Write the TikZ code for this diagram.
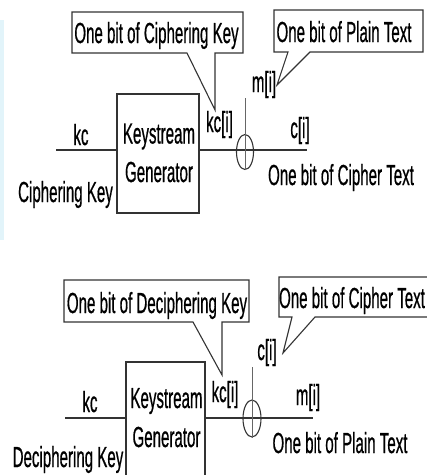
\documentclass[tikz,border=0pt]{standalone}
\usepackage{fontspec}
\usepackage{graphicx}
\setmainfont{Liberation Sans}[FakeBold=0.9]
\usetikzlibrary{shapes.geometric}
\newcommand\narrowtxt[1]{\scalebox{0.52}[1]{#1}}
\definecolor{edgeblue}{HTML}{E2F4FA}
\definecolor{wire}{HTML}{333333}
\begin{document}
\begin{tikzpicture}[x=1pt,y=-1pt,
  lbl/.style={font=\fontsize{29}{30}\selectfont, inner sep=0pt, anchor=base},
  genbox/.style={draw=wire, line width=1.1pt, fill=white, inner sep=0pt},
  xorcirc/.style={ellipse, draw=wire, line width=1.1pt, inner sep=0pt},
  wireline/.style={draw=wire, line width=1.2pt},
  tapline/.style={draw=gray!80!black, line width=0.8pt},
  callout/.style={draw=wire, line width=1.1pt, fill=white, line join=miter}]
\clip (0,0) rectangle (427,475);
\fill[white] (0,0) rectangle (427,475);
\fill[edgeblue] (0,20) rectangle (4,240);

% ---------------- encryption ----------------
\node[genbox, minimum width=82pt, minimum height=119pt] (gen1) at (158,153.5) {};
\node[lbl] (ks1) at (159,143.5) {\narrowtxt{Keystream}};
\node[lbl] (gn1) at (159,182) {\narrowtxt{Generator}};
\coordinate (in1) at (56,150);
\coordinate (out1) at (307,150);
\coordinate (tap1) at (245,98);
\node[xorcirc, minimum width=17pt, minimum height=35pt] (xor1) at (245,152) {};
\draw[wireline] (in1) -- (in1 -| gen1.west);
\draw[wireline] (gen1.east |- in1) -- (out1);
\draw[tapline] (tap1) -- (xor1.south);
\node[lbl] (kc1) at (81,145) {\narrowtxt{kc}};
\node[lbl] (ck1) at (65.5,202) {\narrowtxt{Ciphering Key}};
\node[lbl] (kci1) at (219.5,132) {\narrowtxt{kc[i]}};
\node[lbl] (mi1) at (264,92) {\narrowtxt{m[i]}};
\node[lbl] (ci1) at (300,138) {\narrowtxt{c[i]}};
\node[lbl] (ct1) at (341,185) {\narrowtxt{One bit of Cipher Text}};

% callouts
\coordinate (tipA) at (215,110);
\draw[callout] (72,12) -- (243,12) -- (243,53) -- (215,53) -- (tipA) -- (187,53) -- (72,53) -- cycle;
\node[lbl] (cbA) at (156.5,43) {\narrowtxt{One bit of Ciphering Key}};
\coordinate (tipB) at (277,85);
\draw[callout] (274,10) -- (423,10) -- (423,52) -- (310,52) -- (tipB) -- (288,52) -- (274,52) -- cycle;
\node[lbl] (cbB) at (344,42) {\narrowtxt{One bit of Plain Text}};

% ---------------- decryption ----------------
\node[genbox, minimum width=79pt, minimum height=128pt] (gen2) at (165.5,426) {};
\node[lbl] (ks2) at (166.5,408) {\narrowtxt{Keystream}};
\node[lbl] (gn2) at (166.5,447) {\narrowtxt{Generator}};
\coordinate (in2) at (65,418);
\coordinate (out2) at (313,418);
\coordinate (tap2) at (252,367);
\node[xorcirc, minimum width=18pt, minimum height=37pt] (xor2) at (252,418.5) {};
\draw[wireline] (in2) -- (in2 -| gen2.west);
\draw[wireline] (gen2.east |- in2) -- (out2);
\draw[tapline] (tap2) -- (xor2.south);
\node[lbl] (kc2) at (90,412) {\narrowtxt{kc}};
\node[lbl] (dk2) at (68,467) {\narrowtxt{Deciphering Key}};
\node[lbl] (kci2) at (225,402) {\narrowtxt{kc[i]}};
\node[lbl] (ci2) at (267,360) {\narrowtxt{c[i]}};
\node[lbl] (mi2) at (308,405) {\narrowtxt{m[i]}};
\node[lbl] (pt2) at (340,453) {\narrowtxt{One bit of Plain Text}};

% callouts
\coordinate (tipC) at (222,375);
\draw[callout] (64,280) -- (249,280) -- (249,322) -- (222,322) -- (tipC) -- (193,322) -- (64,322) -- cycle;
\node[lbl] (cbC) at (157,313) {\narrowtxt{One bit of Deciphering Key}};
\coordinate (tipD) at (283,353);
\draw[callout] (279,277) -- (432,277) -- (432,317) -- (315,317) -- (tipD) -- (292,317) -- (279,317) -- cycle;
\node[lbl] (cbD) at (352,308) {\narrowtxt{One bit of Cipher Text}};
\end{tikzpicture}
\end{document}
